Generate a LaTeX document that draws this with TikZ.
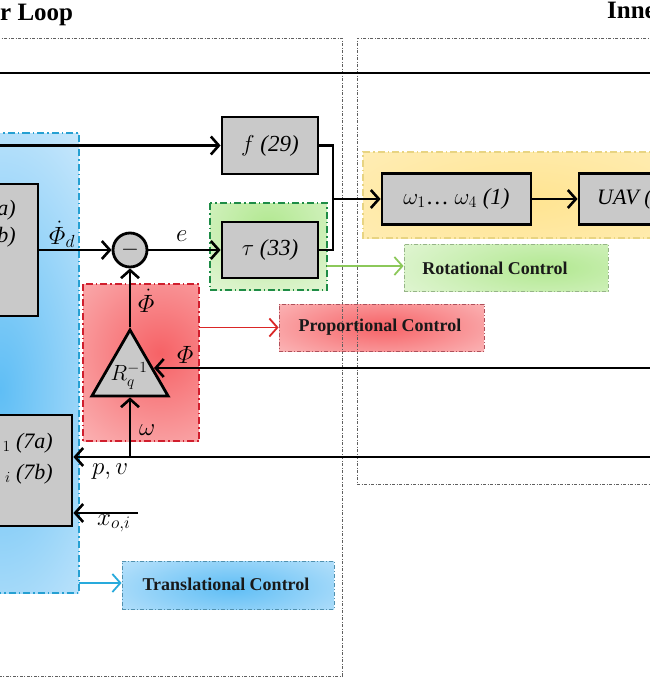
\RequirePackage{fix-cm}
\documentclass[tikz,border=0pt]{standalone}
\usepackage{amsmath}
\usepackage{fontspec}
\setmainfont{Liberation Serif}
\usetikzlibrary{arrows.meta,shapes.geometric}
\definecolor{boxgray}{RGB}{201,201,201}
\definecolor{loopgray}{RGB}{95,95,95}
\definecolor{blueB}{RGB}{38,160,210}
\definecolor{greenB}{RGB}{30,140,70}
\definecolor{redB}{RGB}{208,30,45}
\definecolor{yellowB}{RGB}{232,212,130}
\definecolor{greenA}{RGB}{140,200,90}
\definecolor{redA}{RGB}{218,38,38}
\definecolor{blueA}{RGB}{40,170,220}
\definecolor{rotB}{RGB}{150,180,135}
\definecolor{propB}{RGB}{175,80,90}
\definecolor{transB}{RGB}{80,145,175}
\definecolor{redC}{RGB}{246,98,102}\definecolor{redE}{RGB}{253,224,224}
\definecolor{grnC}{RGB}{178,232,145}\definecolor{grnE}{RGB}{238,249,230}
\definecolor{bluC}{RGB}{95,190,245}\definecolor{bluE}{RGB}{222,240,253}
\definecolor{ylwC}{RGB}{255,228,145}\definecolor{ylwE}{RGB}{255,247,220}
\pgfdeclareradialshading{redglow}{\pgfpointorigin}{color(0bp)=(redC); color(36bp)=(redE); color(50bp)=(redE)}
\pgfdeclareradialshading{grnglow}{\pgfpointorigin}{color(0bp)=(grnC); color(36bp)=(grnE); color(50bp)=(grnE)}
\pgfdeclareradialshading{bluglow}{\pgfpointorigin}{color(0bp)=(bluC); color(36bp)=(bluE); color(50bp)=(bluE)}
\pgfdeclareradialshading{ylwglow}{\pgfpointorigin}{color(0bp)=(ylwC); color(40bp)=(ylwE); color(50bp)=(ylwE)}
\tikzset{
  blk/.style={draw=black, line width=2.8pt, fill=boxgray, inner sep=0pt, font=\fontsize{23}{27}\selectfont},
  plain/.style={line width=2.6pt},
  arr/.style={line width=2.6pt, -{Straight Barb[length=8pt,width=18pt]}},
  carr/.style={line width=1.8pt, -{Straight Barb[length=8pt,width=18pt]}},
  lbl/.style={inner sep=0pt, anchor=base west, font=\fontsize{25}{28}\selectfont},
  frag/.style={inner sep=0pt, anchor=east, font=\fontsize{22}{26}\selectfont},
  title/.style={inner sep=0pt, font=\fontsize{25}{28}\selectfont\bfseries},
  loopbox/.style={draw=loopgray, line width=0.7pt, dash pattern=on 3pt off 1.5pt on 1pt off 1.5pt},
  region/.style={line width=1.3pt, dash pattern=on 7pt off 3pt on 1.5pt off 3pt},
  tag/.style={inner sep=0pt, line width=0.8pt, dash pattern=on 4pt off 2pt on 1pt off 2pt},
  tagtext/.style={inner sep=0pt, font=\fontsize{18}{20}\selectfont\bfseries, text=black!90},
}
\begin{document}
\begin{tikzpicture}[x=1pt,y=-1pt]
\useasboundingbox (0,0) rectangle (650,677);
\clip (0,0) rectangle (650,677);
% ---------- shaded regions
\begin{scope}\clip (-10,133) rectangle (79,593);
  \shade[shading=bluglow] (-120,130) rectangle (120,650);\end{scope}
\begin{scope}\clip (210,203) rectangle (327,290);
  \shade[shading=grnglow] (178,155) rectangle (358,295);\end{scope}
\begin{scope}\clip (83,284) rectangle (199,441);
  \shade[shading=redglow] (30,223) rectangle (290,483);\end{scope}
\begin{scope}\clip (363,152) rectangle (660,238);
  \shade[shading=ylwglow] (250,100) rectangle (800,300);\end{scope}
\begin{scope}\clip (404,244) rectangle (608,291);
  \shade[shading=grnglow] (397,223) rectangle (697,313);\end{scope}
\begin{scope}\clip (279,304) rectangle (484,351);
  \shade[shading=redglow] (243,285) rectangle (523,369);\end{scope}
\begin{scope}\clip (122,561) rectangle (334,609);
  \shade[shading=bluglow] (92,545) rectangle (372,631);\end{scope}
% ---------- region borders
\draw[region, draw=blueB] (-10,133) rectangle (79,593);
\draw[region, draw=greenB] (210,203) rectangle (327,290);
\draw[region, draw=redB] (83,284) rectangle (199,441);
\draw[region, draw=yellowB] (660,152) -- (363,152) -- (363,238) -- (660,238);
% ---------- loop boxes
\draw[loopbox] (-10,38) -- (342,38) -- (342,676) -- (-10,676);
\draw[loopbox] (660,38) -- (357,38) -- (357,484) -- (660,484);
\node[title, anchor=base west] (touter) at (0,21) {r Loop};
\node[title, anchor=base west] (tinner) at (607,19) {Inne};
% ---------- top line
\coordinate (topL) at (0,73);
\coordinate (topR) at (650,73);
\draw[line width=2.8pt] (topL) -- (topR);
% ---------- blocks
\node[blk, minimum width=96pt, minimum height=57pt] (fbox) at (270,145.5) {$f$ \textit{(29)}};
\node[blk, minimum width=96pt, minimum height=56pt] (taubox) at (270,250) {$\tau$ \textit{(33)}};
\node[blk, minimum width=149pt, minimum height=51pt] (omega) at (456.5,199) {$\omega_1$… $\omega_4$ \textit{(1)}};
\node[blk, minimum width=121pt, minimum height=51pt] (uav) at (639.5,199) {};
\node[frag, anchor=west] (uavtxt) at (597,199) {\textit{UAV (}};
\node[blk, minimum width=100pt, minimum height=132pt] (lb1) at (-12,250) {};
\node[frag] (lb1a) at (16,210) {\textit{a)}};
\node[frag] (lb1b) at (16,237) {\textit{b)}};
\node[blk, minimum width=132pt, minimum height=111pt] (lb2) at (6,470.5) {};
\node[frag] (lb2a) at (53,443) {$_1$ \textit{(7a)}};
\node[frag] (lb2b) at (53,474) {$_i$ \textit{(7b)}};
\node[blk, circle, minimum size=34pt] (sum) at (130,250) {$-$};
\node[blk, regular polygon, regular polygon sides=3, minimum size=88pt] (tri) at (130,374) {};
\node[lbl, anchor=center, font=\fontsize{22}{26}\selectfont] (tritxt) at (129,376) {$R_q^{-1}$};
% ---------- connectors
\coordinate (in1) at (0,145.5);
\draw[arr] (in1) -- (fbox.west);
\coordinate (jn) at (333,199);
\draw[plain] (fbox.east) -| (jn);
\draw[plain] (taubox.east) -| (jn);
\draw[arr] (jn) -- (omega.west);
\draw[arr] (omega.east) -- (uav.west);
\draw[arr] (lb1.east) -- (sum.west);
\draw[arr] (sum.east) -- (taubox.west);
\draw[arr] (tri.corner 1) -- (sum.south);
\coordinate (phin) at (650,368);
\coordinate (phend) at (154,368);
\draw[arr] (phin) -- (phend);
\coordinate (pvin) at (650,457);
\draw[arr] (pvin) -- (pvin -| lb2.east);
\draw[arr] (pvin -| tri.side 2) -- (tri.side 2);
\coordinate (xoin) at (138,513);
\draw[arr] (xoin) -- (xoin -| lb2.east);
% ---------- labels
\node[lbl] (lphid) at (49,244) {$\dot{\varPhi}_d$};
\node[lbl] (le) at (176,241) {$e$};
\node[lbl] (lphidot) at (138,312) {$\dot{\varPhi}$};
\node[lbl] (lphi) at (177,363) {$\varPhi$};
\node[lbl] (lomega) at (139,435) {$\omega$};
\node[lbl] (lpv) at (92,474) {$p,v$};
\node[lbl] (lxo) at (97,525) {$x_{o,i}$};
% ---------- tag boxes
\node[tag, draw=rotB, minimum width=204pt, minimum height=47pt] (rot) at (506,267.5) {};
\node[tagtext] (rottxt) at (495,268) {Rotational Control};
\node[tag, draw=propB, minimum width=205pt, minimum height=47pt] (prop) at (381.5,327.5) {};
\node[tagtext] (proptxt) at (380,327.5) {Proportional Control};
\node[tag, draw=transB, minimum width=212pt, minimum height=48pt] (trans) at (228,585) {};
\node[tagtext] (transtxt) at (226,584) {Translational Control};
\coordinate (gout) at (327,266);
\draw[carr, draw=greenA] (gout) -- (gout -| rot.west);
\coordinate (rout) at (199,327.5);
\draw[carr, draw=redA] (rout) -- (rout -| prop.west);
\coordinate (bout) at (79,583);
\draw[carr, draw=blueA] (bout) -- (bout -| trans.west);
\end{tikzpicture}
\end{document}
